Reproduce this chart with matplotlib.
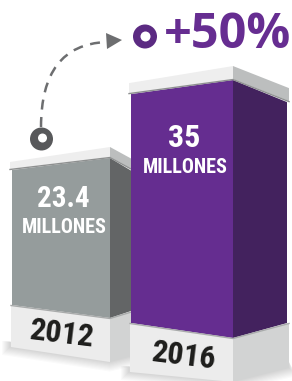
import matplotlib
matplotlib.use('Agg')
import matplotlib.pyplot as plt
from matplotlib.patches import Polygon, Circle, PathPatch
from matplotlib.path import Path

# chart data
years = ['2012', '2016']
values = [23.4, 35]
value_labels = ['23.4', '35']
units = ['MILLONES', 'MILLONES']
growth_label = '+50%'

front_colors = ['#959c9c', '#652d90']
side_colors = ['#636566', '#43225e']
PURPLE = '#662d91'

# pillar layout (pixels), k = pixels per unit, rr/rs = perspective ratios
geom = [
    dict(xl=12, xr=110, xs=131, ybl=305, ybr=318, ybs=311, k=5.77, rr=1.185, rs=1.04,
         cap=7, cap_r=10, base=(42, 44, 45), txt=(207, 233, 21), year=(62, 334)),
    dict(xl=131, xr=233, xs=287, ybl=323, ybr=338, ybs=323, k=6.54, rr=1.127, rs=0.965,
         cap=10, cap_r=13, base=(49, 44, 45), txt=(147, 173, 23), year=(184, 356)),
]

W, H = 292, 381
fig = plt.figure(figsize=(W / 100, H / 100), dpi=100)
ax = fig.add_axes([0, 0, 1, 1])
ax.set_xlim(0, W)
ax.set_ylim(H, 0)
ax.axis('off')

narrow = ['Roboto Condensed', 'DejaVu Sans']


def poly(pts, color, z, **kw):
    ax.add_patch(Polygon(pts, closed=True, facecolor=color, edgecolor='none', zorder=z, **kw))


def pillar(i, z):
    g = geom[i]
    xl, xr, xs = g['xl'], g['xr'], g['xs']
    ybl, ybr, ybs = g['ybl'], g['ybr'], g['ybs']
    h = values[i] * g['k']
    tl = (xl, ybl - h)
    tr = (xr, ybr - h * g['rr'])
    ts = (xs, ybs - h * g['rs'])
    bl, br, bs = g['base']

    # soft shadow under base
    for s in range(1, 9):
        poly([(xl - 2 - s, ybl + bl - 6), (xr, ybr + br - 6), (xs + 2, ybs + bs - 6),
              (xs + 2 + s, ybs + bs + s), (xr, ybr + br + s * 1.2), (xl - 2 - s, ybl + bl + s)],
             '#000000', z, alpha=0.018)

    # base
    poly([(xl - 1, ybl), (xr, ybr), (xr, ybr + br), (xl - 1, ybl + bl)], '#ececec', z + 0.1)
    poly([(xr, ybr), (xs + 2, ybs), (xs + 2, ybs + bs), (xr, ybr + br)], '#d2d3d3', z + 0.1)

    # body
    poly([(xl, ybl), (xr, ybr), tr, tl], front_colors[i], z + 0.2)
    poly([(xr, ybr), (xs, ybs), ts, tr], side_colors[i], z + 0.2)
    ax.plot([xl - 1, xr, xs + 2], [ybl + 0.5, ybr + 0.5, ybs + 0.5], color='#a9abab', lw=1, zorder=z + 0.25)

    # cap
    cs = g['cap_r']
    poly([(xl - 2, tl[1] - 1 - g['cap']), (xr, tr[1] - 1 - cs), (xr, tr[1] - 1), (xl - 2, tl[1] - 1)],
         '#eeeeee', z + 0.3)
    poly([(xr, tr[1] - 1 - cs), (xs + 2, ts[1] - 1 - cs), (xs + 2, ts[1] - 1), (xr, tr[1] - 1)],
         '#bcbebe', z + 0.3)
    ax.plot([xl - 2, xr, xs + 2], [tl[1] - 0.5, tr[1] - 0.5, ts[1] - 0.5], color='#8e9090', lw=1, zorder=z + 0.35)

    # labels
    cx = (xl + xr) / 2
    yv, yu, fs = g['txt']
    ax.text(cx + 2, yv, value_labels[i], color='white', fontsize=fs, fontweight='bold',
            family=narrow, ha='center', va='baseline', zorder=z + 0.5)
    ax.text(cx + 3, yu, units[i], color='white', fontsize=14.5, fontweight='bold',
            family=narrow, ha='center', va='baseline', zorder=z + 0.5)
    yx, yy = g['year']
    ax.text(yx, yy, years[i], color='#1d1d1b', fontsize=23, fontweight='bold', family=narrow,
            ha='center', va='center', rotation=-7, rotation_mode='anchor', zorder=z + 0.5)


pillar(0, 2)
pillar(1, 3)

# dashed growth arrow
arrow = Path([(41, 127), (41, 45), (106, 42)], [Path.MOVETO, Path.CURVE3, Path.CURVE3])
ax.add_patch(PathPatch(arrow, facecolor='none', edgecolor='#6d6e70', lw=1.8,
                       linestyle=(0, (4, 3)), zorder=5))
poly([(106, 33), (122, 40), (107, 49)], '#6d6e70', 5)

# ring markers
ax.add_patch(Circle((41.5, 139), 11.5, facecolor='#58595b', edgecolor='none', zorder=6))
ax.add_patch(Circle((42.5, 138), 4.5, facecolor='white', edgecolor='none', zorder=6.1))
ax.add_patch(Circle((145, 36.5), 12, facecolor='#5b2a82', edgecolor='none', zorder=6))
ax.add_patch(Circle((145.5, 36.5), 5, facecolor='white', edgecolor='none', zorder=6.1))

ax.text(164, 48, growth_label, color=PURPLE, fontsize=35, fontweight='bold',
        family=['Open Sans', 'DejaVu Sans'], ha='left', va='baseline', zorder=6)

fig.savefig('out.png', dpi=100)
